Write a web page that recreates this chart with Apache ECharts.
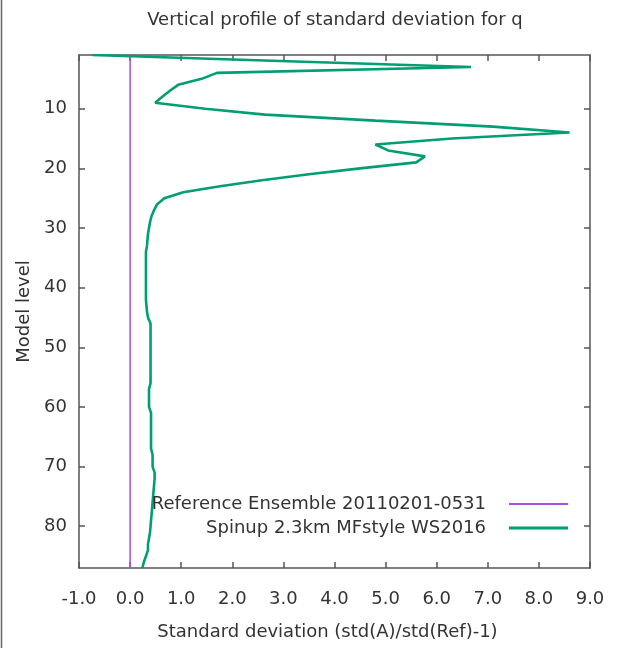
<!DOCTYPE html>
<html>
<head>
    <meta charset="UTF-8">
    <title>Vertical profile of standard deviation for q</title>
    <script type="text/javascript" src="https://cdn.jsdelivr.net/npm/echarts@6/dist/echarts.min.js"></script>
</head>
<body style="margin: 0;padding: 0;background:#fff;">
    <div id="container" style="width:620px; height:655px;"></div>
    <script>
        // model levels 1..87 (top to bottom)
        var levels = [];
        for (var l = 1; l <= 87; l++) levels.push(l);

        var refName = 'Reference Ensemble 20110201-0531';
        var spinName = 'Spinup 2.3km MFstyle WS2016';

        // reference ensemble is zero at every level
        var refValues = levels.map(function () { return 0; });

        // spinup std ratio, one value per level
        var spinValues = [
            -0.74, 2.93, 6.67, 1.70, 1.40, 0.94, 0.78, 0.63, 0.49, 1.47,
            2.64, 4.80, 7.10, 8.60, 6.30, 4.80, 5.05, 5.77, 5.60, 4.50,
            3.50, 2.58, 1.76, 1.04, 0.67, 0.53, 0.47, 0.42, 0.39, 0.37,
            0.35, 0.34, 0.33, 0.31, 0.31, 0.31, 0.31, 0.31, 0.31, 0.31,
            0.31, 0.31, 0.32, 0.33, 0.35, 0.40, 0.40, 0.40, 0.40, 0.40,
            0.40, 0.40, 0.40, 0.40, 0.40, 0.40, 0.37, 0.37, 0.37, 0.37,
            0.41, 0.41, 0.41, 0.41, 0.41, 0.41, 0.41, 0.44, 0.44, 0.44,
            0.48, 0.48, 0.47, 0.46, 0.45, 0.44, 0.43, 0.42, 0.41, 0.40,
            0.39, 0.37, 0.35, 0.35, 0.31, 0.27, 0.24
        ];

        var yTicks = [10, 20, 30, 40, 50, 60, 70, 80];

        var font = 'DejaVu Sans';
        var fs = 18;
        var axisColor = '#555';
        var textColor = '#333';
        var refColor = '#a64fe0';
        var spinColor = '#009e73';

        var chart = echarts.init(document.getElementById('container'), null, { renderer: 'canvas' });

        var xBase = {
            type: 'value', min: -1, max: 9, interval: 1,
            axisLine: { show: true, onZero: false, lineStyle: { color: axisColor, width: 1.5 } },
            axisTick: { show: true, inside: true, length: 6, lineStyle: { color: axisColor, width: 1.5 } },
            splitLine: { show: false }
        };
        var yBase = {
            type: 'value', min: 1, max: 87, inverse: true,
            axisLine: { show: true, onZero: false, lineStyle: { color: axisColor, width: 1.5 } },
            axisTick: { show: true, inside: true, length: 6, customValues: yTicks, lineStyle: { color: axisColor, width: 1.5 } },
            splitLine: { show: false }
        };

        var option = {
            animation: false,
            backgroundColor: '#fff',
            title: {
                text: 'Vertical profile of standard deviation for q',
                left: 330, top: 6, textAlign: 'center',
                textStyle: { fontFamily: font, fontSize: fs, fontWeight: 'normal', color: textColor }
            },
            grid: { left: 79, top: 55, width: 511, height: 513 },
            xAxis: [
                Object.assign({}, xBase, {
                    position: 'bottom',
                    axisLabel: {
                        margin: 22, fontFamily: font, fontSize: fs, color: textColor,
                        formatter: function (v) { return v.toFixed(1); }
                    },
                    name: 'Standard deviation (std(A)/std(Ref)-1)',
                    nameLocation: 'middle', nameGap: 55,
                    nameTextStyle: { fontFamily: font, fontSize: fs, color: textColor, padding: [0, 14, 0, 0] }
                }),
                Object.assign({}, xBase, { position: 'top', axisLabel: { show: false } })
            ],
            yAxis: [
                Object.assign({}, yBase, {
                    position: 'left',
                    axisLabel: {
                        margin: 12, customValues: yTicks,
                        fontFamily: font, fontSize: fs, color: textColor
                    },
                    name: 'Model level', nameLocation: 'middle', nameGap: 46, nameRotate: 90,
                    nameTextStyle: { fontFamily: font, fontSize: fs, color: textColor }
                }),
                Object.assign({}, yBase, { position: 'right', axisLabel: { show: false } })
            ],
            // opaque key box like gnuplot
            graphic: [{
                type: 'rect', z: 3,
                shape: { x: 112, y: 477, width: 470, height: 75 },
                style: { fill: '#fff' }
            }, {
                type: 'line', z: 5,
                shape: { x1: 1.5, y1: 0, x2: 1.5, y2: 648 },
                style: { stroke: '#666', lineWidth: 1.5 }
            }],
            legend: [{
                data: [refName], orient: 'vertical', align: 'right',
                right: 52, top: 494, padding: 0, z: 6,
                icon: 'rect', itemWidth: 59, itemHeight: 2,
                itemStyle: { color: refColor },
                textStyle: { fontFamily: font, fontSize: fs, color: textColor, lineHeight: 20, padding: [0, 18, 0, 0] }
            }, {
                data: [spinName], orient: 'vertical', align: 'right',
                right: 52, top: 518, padding: 0, z: 6,
                icon: 'rect', itemWidth: 59, itemHeight: 3,
                itemStyle: { color: spinColor },
                textStyle: { fontFamily: font, fontSize: fs, color: textColor, lineHeight: 20, padding: [0, 18, 0, 0] }
            }],
            series: [{
                name: refName, type: 'line', xAxisIndex: 0, yAxisIndex: 0,
                showSymbol: false, symbol: 'none',
                lineStyle: { color: refColor, width: 1.5 },
                itemStyle: { color: refColor },
                data: levels.map(function (lev, i) { return [refValues[i], lev]; })
            }, {
                name: spinName, type: 'line', xAxisIndex: 0, yAxisIndex: 0,
                showSymbol: false, symbol: 'none',
                lineStyle: { color: spinColor, width: 2.6 },
                itemStyle: { color: spinColor },
                data: levels.map(function (lev, i) { return [spinValues[i], lev]; })
            }]
        };
        chart.setOption(option);
    </script>
</body>
</html>
